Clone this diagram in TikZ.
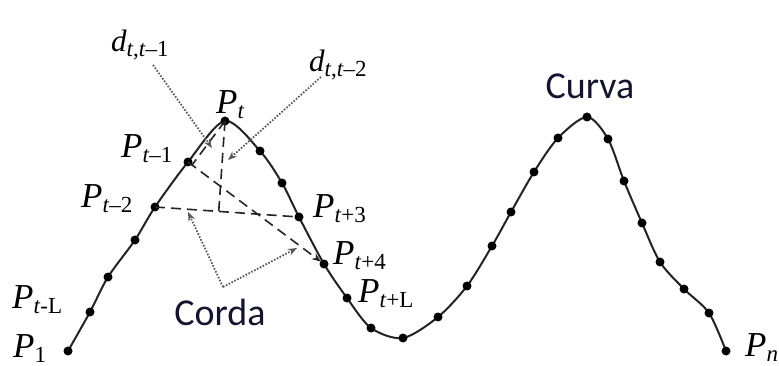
\documentclass[tikz,border=0pt]{standalone}
\usepackage{fontspec}
\setmainfont{Liberation Serif}
\newfontfamily\calib{Carlito}
\usetikzlibrary{arrows.meta,calc}
\definecolor{curvecol}{RGB}{35,35,35}
\definecolor{dotcol}{RGB}{90,90,90}
\definecolor{txtblue}{RGB}{20,20,45}
\newcommand\Psub[2]{{\itshape #1}\raisebox{-5pt}{\fontsize{23}{23}\selectfont #2}}
\begin{document}
\begin{tikzpicture}[x=1pt,y=-1pt,
  lab/.style={inner sep=0pt,font=\fontsize{35}{35}\selectfont,anchor=base west},
  dlab/.style={lab,font=\fontsize{31}{31}\selectfont},
  pdot/.style={circle,fill=black,inner sep=0pt,minimum size=9pt},
  curveline/.style={line width=2pt,curvecol},
  dashline/.style={line width=1.6pt,curvecol,dash pattern=on 10pt off 6pt},
  dotline/.style={line width=1.8pt,dotcol,dash pattern=on 1.6pt off 1.6pt},
  tip/.style={-{Stealth[length=9pt,width=7pt]}},
  bigtext/.style={inner sep=0pt,font=\calib\fontsize{38}{38}\selectfont,text=txtblue}
]
\useasboundingbox (0,0) rectangle (779,366);
% curve points
\coordinate (p1) at (68,351);
\coordinate (p2) at (90,312);
\coordinate (p3) at (108,277);
\coordinate (p4) at (135,240);
\coordinate (p5) at (155,207);
\coordinate (p6) at (188,162);
\coordinate (p7) at (225,121);
\coordinate (p8) at (260,151);
\coordinate (p9) at (282,183);
\coordinate (p10) at (299,217);
\coordinate (p11) at (324,264);
\coordinate (p12) at (347,298);
\coordinate (p13) at (371,328);
\coordinate (p14) at (403,338);
\coordinate (p15) at (438,317);
\coordinate (p16) at (467,286);
\coordinate (p17) at (492,246);
\coordinate (p18) at (511,212);
\coordinate (p19) at (534,172);
\coordinate (p20) at (558,138);
\coordinate (p21) at (587,117);
\coordinate (p22) at (608,139);
\coordinate (p23) at (624,181);
\coordinate (p24) at (642,223);
\coordinate (p25) at (660,262);
\coordinate (p26) at (684,289);
\coordinate (p27) at (709,313);
\coordinate (p28) at (726,351);
\draw[curveline] plot[smooth,tension=0.5] coordinates {(p1) (p2) (p3) (p4) (p5) (p6) (p7) (p8) (p9) (p10) (p11) (p12) (p13) (p14) (p15) (p16) (p17) (p18) (p19) (p20) (p21) (p22) (p23) (p24) (p25) (p26) (p27) (p28)};
\foreach \i in {1,...,28} \node[pdot] (d\i) at (p\i) {};
% chords and distances
\coordinate (foot2) at ($(p5)!(p7)!(p10)$);
\coordinate (foot1) at ($(p6)!(p7)!(p11)$);
\draw[dashline] (d5.center) -- (d10.center);
\draw[dashline,tip,shorten >=4pt] (d6.center) -- (d11.center);
\draw[dashline] (d7.center) -- (foot2);
\draw[dashline] (d7.center) -- (foot1);
% dotted pointers
\coordinate (s1) at (153,65);
\coordinate (e1) at (212,148);
\coordinate (s2) at (321,77);
\coordinate (e2) at (228,160);
\coordinate (cc) at (223,287);
\coordinate (c1) at (188,212);
\coordinate (c2) at (297,248);
\draw[dotline,tip] (s1) -- (e1);
\draw[dotline,tip] (s2) -- (e2);
\draw[dotline,tip] (cc) -- (c1);
\draw[dotline,tip] (cc) -- (c2);
% labels
\node[lab] (lP1) at (13,357) {\Psub{P}{1}};
\node[lab] (lPtL) at (12,308) {\Psub{P}{\textit{t}-L}};
\node[lab] (lPt2) at (81,208) {\Psub{P}{\textit{t}–2}};
\node[lab] (lPt1) at (121,158) {\Psub{P}{\textit{t}–1}};
\node[lab] (lPt) at (216,114) {\Psub{P}{\textit{t}}};
\node[lab] (lPt3) at (313,218) {\Psub{P}{\textit{t}+3}};
\node[lab] (lPt4) at (333,265) {\Psub{P}{\textit{t}+4}};
\node[lab] (lPtLp) at (358,302) {\Psub{P}{\textit{t}+L}};
\node[lab] (lPn) at (745,356) {\Psub{P}{\textit{n}}};
\node[dlab] (ld1) at (111,52) {\Psub{d}{\textit{t},\textit{t}–1}};
\node[dlab] (ld2) at (309,72) {\Psub{d}{\textit{t},\textit{t}–2}};
\node[bigtext] (curva) at (590,86) {Curva};
\node[bigtext] (corda) at (220,312) {Corda};
\end{tikzpicture}
\end{document}
